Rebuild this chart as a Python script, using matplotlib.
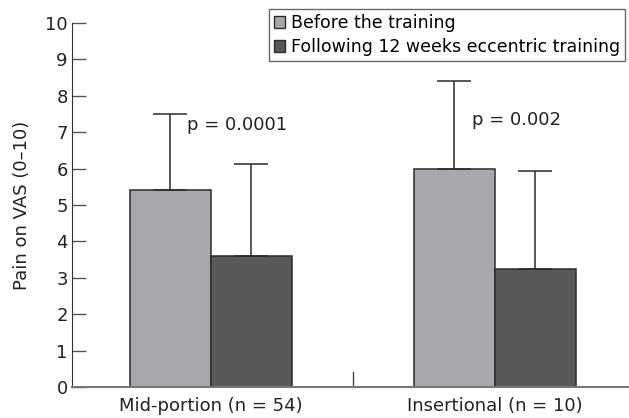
import numpy as np
import matplotlib
matplotlib.use("Agg")
import matplotlib.pyplot as plt
from matplotlib.patches import Patch

groups = ["Mid-portion (n = 54)", "Insertional (n = 10)"]
series = ["Before the training", "Following 12 weeks eccentric training"]
before = [5.4, 6.0]
before_sd = [2.1, 2.4]
after = [3.6, 3.25]
after_sd = [2.52, 2.68]
p_labels = ["p = 0.0001", "p = 0.002"]
p_ypos = [7.2, 7.33]

c_light = "#a7a8ab"
c_dark = "#58595b"
edge = "#2b2b2b"
FS = 13

plt.rcParams["font.family"] = ["DejaVu Sans"]
fig = plt.figure(figsize=(6.29, 4.18), dpi=100)
W, H = 629, 418
ax = fig.add_axes([72 / W, 1 - 387 / H, (629 - 72) / W, (387 - 23) / H])

x = np.arange(len(groups))
w = 0.285
err_kw = dict(ecolor=edge, elinewidth=1.1, capsize=12, capthick=1.1)
ax.bar(x - w / 2, before, w, color=c_light, edgecolor=edge, linewidth=1.1,
       yerr=[np.zeros(2), before_sd], error_kw=err_kw, zorder=2)
ax.bar(x + w / 2, after, w, color=c_dark, edgecolor=edge, linewidth=1.1,
       yerr=[np.zeros(2), after_sd], error_kw=err_kw, zorder=2)

for i in range(len(groups)):
    ax.text(x[i] - w / 2 + 0.06, p_ypos[i], p_labels[i], fontsize=FS,
            color="#222222", va="center", ha="left")

ax.set_xlim(-0.489, 1.472)
ax.set_ylim(0, 10)
ax.set_yticks(range(0, 11))
ax.set_xticks(x)
ax.set_xticklabels(groups, fontsize=FS, color="#222222")
ax.tick_params(axis="x", length=0, pad=7)
ax.tick_params(axis="y", direction="in", length=10, width=1, color="#555555",
               labelsize=FS, labelcolor="#222222", pad=3)
# separator tick between groups
ax.plot([0.5, 0.5], [0, 0.4], color="#444444", linewidth=1, clip_on=False)

for s in ["top", "right"]:
    ax.spines[s].set_visible(False)
ax.spines["left"].set_color("#333333")
ax.spines["bottom"].set_color("#777777")
ax.spines["bottom"].set_linewidth(1.5)
ax.set_ylabel("Pain on VAS (0\u201310)", fontsize=FS, color="#222222", labelpad=10)

handles = [Patch(facecolor=c_light, edgecolor=edge), Patch(facecolor=c_dark, edgecolor=edge)]
leg = fig.legend(handles, series, loc="upper left", bbox_to_anchor=(269 / W, 1 - 9 / H),
                 fontsize=12.5, frameon=True, fancybox=False, borderpad=0.3,
                 labelspacing=0.35, handlelength=0.65, handleheight=0.65,
                 handletextpad=0.3, borderaxespad=0)
leg.get_frame().set_edgecolor("#444444")
leg.get_frame().set_linewidth(1)

fig.savefig("out.png", dpi=100)
